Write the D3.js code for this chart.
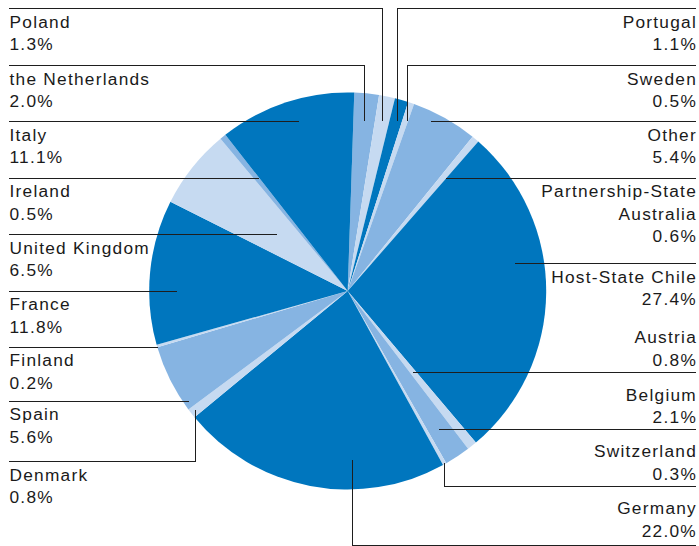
<!DOCTYPE html>
<html>
<head>
<meta charset="utf-8">
<script src="https://cdn.jsdelivr.net/npm/d3@7"></script>
<style>
  html, body { margin: 0; padding: 0; background: #fff; }
  svg { display: block; }
  .lbl { font-family: "Liberation Sans", Arial, Helvetica, sans-serif; font-size: 17.3px; letter-spacing: 1.25px; fill: #1a1a1a; }
  .rule { stroke: #1e1e1e; stroke-width: 1; fill: none; shape-rendering: crispEdges; }
</style>
</head>
<body>
<svg id="chart" width="699" height="546"></svg>
<script>
// Shares by country, clockwise from just right of 12 o'clock
const categories = ["the Netherlands", "Poland", "Portugal", "Sweden", "Other",
  "Partnership-State Australia", "Host-State Chile", "Austria", "Belgium", "Switzerland",
  "Germany", "Denmark", "Spain", "Finland", "France", "United Kingdom", "Ireland", "Italy"];
const shares = [2.0, 1.3, 1.1, 0.5, 5.4, 0.6, 27.4, 0.8, 2.1, 0.3,
  22.0, 0.8, 5.6, 0.2, 11.8, 6.5, 0.5, 11.1];
const tones = ["mid", "light", "dark", "light", "mid", "light", "dark", "light", "mid", "light",
  "dark", "light", "mid", "light", "dark", "light", "mid", "dark"];

// Label columns, top to bottom
const leftOrder = ["Poland", "the Netherlands", "Italy", "Ireland", "United Kingdom",
  "France", "Finland", "Spain", "Denmark"];
const rightOrder = ["Portugal", "Sweden", "Other", "Partnership-State Australia", "Host-State Chile",
  "Austria", "Belgium", "Switzerland", "Germany"];

// Layout of the label columns: rule position and first baseline of each block
const leftRuleY = [8, 65, 121, 178, 234, 291, 347, 401, 461];
const leftTextY = [27.5, 84.5, 140.5, 197, 253.5, 310, 366, 420, 480.5];
const rightRuleY = [8, 65, 121, 178, 263, 372, 429, 486, 545];
const rightTextY = [27.5, 84.5, 140.5, 197, 282.5, 343, 400.5, 457, 514];

// Leader anchor inside each slice: t = position across the slice angle, k = fraction of radius,
// elbow = leader turns vertically to reach the anchor
const leaders = {
  "the Netherlands": { t: 0.51, k: 0.86, elbow: true },
  "Poland": { t: 0.51, k: 0.874, elbow: true },
  "Portugal": { t: 0.60, k: 0.892, elbow: true },
  "Sweden": { t: 0.80, k: 0.907, elbow: true },
  "Other": { t: 0.32, k: 0.952 },
  "Partnership-State Australia": { t: 0.81, k: 0.751 },
  "Host-State Chile": { t: 0.398, k: 0.85 },
  "Austria": { t: 0.62, k: 0.521 },
  "Belgium": { t: 0.55, k: 0.831 },
  "Switzerland": { t: 0.5, k: 0.993, elbow: true },
  "Germany": { t: 0.344, k: 0.852, elbow: true },
  "Denmark": { t: 0.55, k: 0.975, elbow: true },
  "Spain": { t: 0.10, k: 0.977 },
  "Finland": { t: 0.5, k: 1.0 },
  "France": { t: 0.37, k: 0.865 },
  "United Kingdom": { t: 0.50, k: 0.461 },
  "Ireland": { t: 0.79, k: 0.727 },
  "Italy": { t: 0.545, k: 0.892 }
};

const W = 699, H = 546;
const cx = 347.7, cy = 291, R = 198.5;
const start = 1.9 * Math.PI / 180;

const svg = d3.select("#chart");

const color = d3.scaleOrdinal()
  .domain(["dark", "mid", "light"])
  .range(["#0076be", "#86b4e2", "#c6daf1"]);

const data = categories.map((c, i) => ({ name: c, v: shares[i], tone: tones[i] }));

const pie = d3.pie().sort(null).value(d => d.v)
  .startAngle(start).endAngle(start + 2 * Math.PI);
const arc = d3.arc().innerRadius(0).outerRadius(R);
const arcs = pie(data);
const byName = new Map(arcs.map(a => [a.data.name, a]));

svg.append("g")
  .attr("transform", `translate(${cx},${cy})`)
  .selectAll("path")
  .data(arcs)
  .join("path")
  .attr("d", arc)
  .attr("fill", d => color(d.data.tone));

function anchor(name) {
  const a = byName.get(name);
  const L = leaders[name];
  const th = a.startAngle + L.t * (a.endAngle - a.startAngle);
  return { x: cx + L.k * R * Math.sin(th), y: cy - L.k * R * Math.cos(th) };
}

const fmt = d3.format(".1f");
const px = v => Math.round(v) + 0.5;

function wrapName(name) {
  if (name.length > 18) {
    const i = name.lastIndexOf(" ");
    return [name.slice(0, i), name.slice(i + 1)];
  }
  return [name];
}

const rules = svg.append("g");
const labels = svg.append("g");

function drawColumn(order, ruleY, textY, side) {
  order.forEach((name, i) => {
    const a = byName.get(name);
    const p = anchor(name);
    const L = leaders[name];
    const y = px(ruleY[i]);
    const edge = side === "left" ? 9 : 696;
    let d = `M${edge},${y}H${px(p.x)}`;
    if (L.elbow) d += `V${p.y}`;
    rules.append("path").attr("class", "rule").attr("d", d);

    const lines = wrapName(name).concat([fmt(a.data.v) + "%"]);
    const t = labels.append("text")
      .attr("class", "lbl")
      .attr("text-anchor", side === "left" ? "start" : "end");
    lines.forEach((s, j) => {
      t.append("tspan")
        .attr("x", side === "left" ? 9.5 : 697)
        .attr("y", textY[i] + j * 22.5)
        .text(s);
    });
  });
}

drawColumn(leftOrder, leftRuleY, leftTextY, "left");
drawColumn(rightOrder, rightRuleY, rightTextY, "right");
</script>
</body>
</html>
